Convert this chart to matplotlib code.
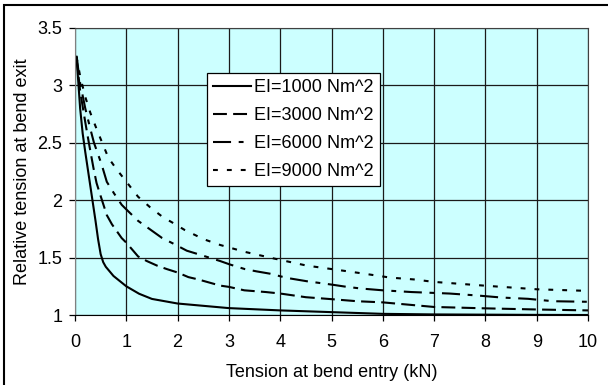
import matplotlib
matplotlib.use('Agg')
import matplotlib.pyplot as plt
from matplotlib.ticker import FuncFormatter
from matplotlib.patches import Rectangle

plt.rcParams['font.family'] = ['Liberation Sans', 'DejaVu Sans']
plt.rcParams['font.size'] = 13
plt.rcParams['lines.scale_dashes'] = False

# values
x_1000 = [0.03, 0.1, 0.15, 0.2, 0.3, 0.4, 0.45, 0.5, 0.55, 0.6, 0.75, 1.0, 1.25, 1.5, 2, 3, 4, 5, 6, 7, 8, 9, 10]
y_1000 = [3.25, 2.8, 2.58, 2.42, 2.12, 1.82, 1.66, 1.53, 1.46, 1.42, 1.34, 1.25, 1.185, 1.14, 1.10, 1.06, 1.04, 1.025, 1.01, 1.005, 1.003, 1.001, 1.0]

x_3000 = [0.03, 0.1, 0.2, 0.27, 0.36, 0.42, 0.49, 0.62, 0.72, 0.91, 1.0, 1.23, 1.4, 1.6, 1.79, 2.0, 2.21, 2.4, 2.83, 3.0, 3.3, 3.72, 4.0, 4.5, 5.0, 5.5, 6.0, 6.5, 7.0, 8.0, 9.0, 10.0]
y_3000 = [3.25, 2.95, 2.68, 2.5, 2.28, 2.15, 2.05, 1.87, 1.79, 1.67, 1.63, 1.51, 1.47, 1.43, 1.40, 1.37, 1.33, 1.31, 1.256, 1.245, 1.215, 1.2, 1.187, 1.155, 1.138, 1.12, 1.11, 1.09, 1.07, 1.058, 1.048, 1.04]

x_6000 = [0.03, 0.1, 0.2, 0.3, 0.37, 0.52, 0.62, 0.76, 0.91, 1.0, 1.23, 1.45, 1.7, 1.88, 2.18, 2.4, 2.83, 3.02, 3.31, 3.54, 3.8, 4.13, 4.52, 5.0, 5.3, 5.59, 6.0, 6.56, 7.3, 7.84, 8.32, 8.83, 9.32, 10.0]
y_6000 = [3.25, 3.02, 2.8, 2.62, 2.5, 2.31, 2.16, 2.06, 1.96, 1.92, 1.82, 1.75, 1.67, 1.63, 1.56, 1.53, 1.47, 1.44, 1.40, 1.38, 1.36, 1.323, 1.294, 1.265, 1.245, 1.23, 1.215, 1.20, 1.187, 1.17, 1.152, 1.141, 1.12, 1.115]

x_9000 = [0.03, 0.1, 0.2, 0.3, 0.43, 0.65, 0.81, 1.02, 1.23, 1.46, 1.72, 1.88, 2.14, 2.51, 2.83, 3.31, 3.9, 4.52, 5.07, 5.62, 6.14, 6.63, 6.98, 8.0, 9.0, 10.0]
y_9000 = [3.25, 3.08, 2.9, 2.76, 2.61, 2.37, 2.27, 2.15, 2.03, 1.94, 1.85, 1.81, 1.74, 1.66, 1.61, 1.55, 1.49, 1.43, 1.396, 1.361, 1.326, 1.309, 1.289, 1.255, 1.224, 1.21]

labels = ['EI=1000 Nm^2', 'EI=3000 Nm^2', 'EI=6000 Nm^2', 'EI=9000 Nm^2']
x_ticks = [0, 1, 2, 3, 4, 5, 6, 7, 8, 9, 10]
y_ticks = [1, 1.5, 2, 2.5, 3, 3.5]

fig = plt.figure(figsize=(6.08, 3.85), dpi=100)
ax = fig.add_axes([75/608, 1-315/385, 513/608, 287/385])
ax.set_facecolor('#CCFFFF')

lw = 1.5
ax.plot(x_1000, y_1000, color='black', lw=lw, label=labels[0])
ax.plot(x_3000, y_3000, color='black', lw=lw, dashes=(10, 4.5), label=labels[1])
ax.plot(x_6000, y_6000, color='black', lw=lw, dashes=(13, 5.5, 3.5, 5.5), label=labels[2])
ax.plot(x_9000, y_9000, color='black', lw=lw, dashes=(3.5, 6.5), label=labels[3])

ax.set_xlim(0, 10)
ax.set_ylim(1, 3.5)
ax.set_xticks(x_ticks)
ax.set_yticks(y_ticks)
ax.yaxis.set_major_formatter(FuncFormatter(lambda v, p: '%g' % v))
ax.grid(True, color='#1a1a1a', lw=0.9)
ax.set_axisbelow(True)
ax.tick_params(direction='out', length=4, width=0.9, colors='black')
ax.tick_params(axis='x', pad=10)
ax.tick_params(axis='y', pad=5)
for s in ['top', 'right']:
    ax.spines[s].set_color('#404040')
ax.spines['left'].set_color('#808080')
ax.spines['bottom'].set_color('black')

ax.set_xlabel('Tension at bend entry (kN)', labelpad=9)
ax.set_ylabel('Relative tension at bend exit', labelpad=5)

leg = ax.legend(loc='upper left', bbox_to_anchor=((207-75)/513, (315-73)/287), borderaxespad=0,
                fancybox=False, framealpha=1, edgecolor='black', handlelength=2.1,
                handletextpad=0.15, labelspacing=0.6, borderpad=0.35)
leg.get_frame().set_linewidth(0.9)

# outer border of the chart
fig.patches.append(Rectangle((4/608, -0.05), 1.1, 1.05-5/385, transform=fig.transFigure,
                             fill=False, edgecolor='black', lw=1.5))

fig.savefig('out.png', dpi=100)
